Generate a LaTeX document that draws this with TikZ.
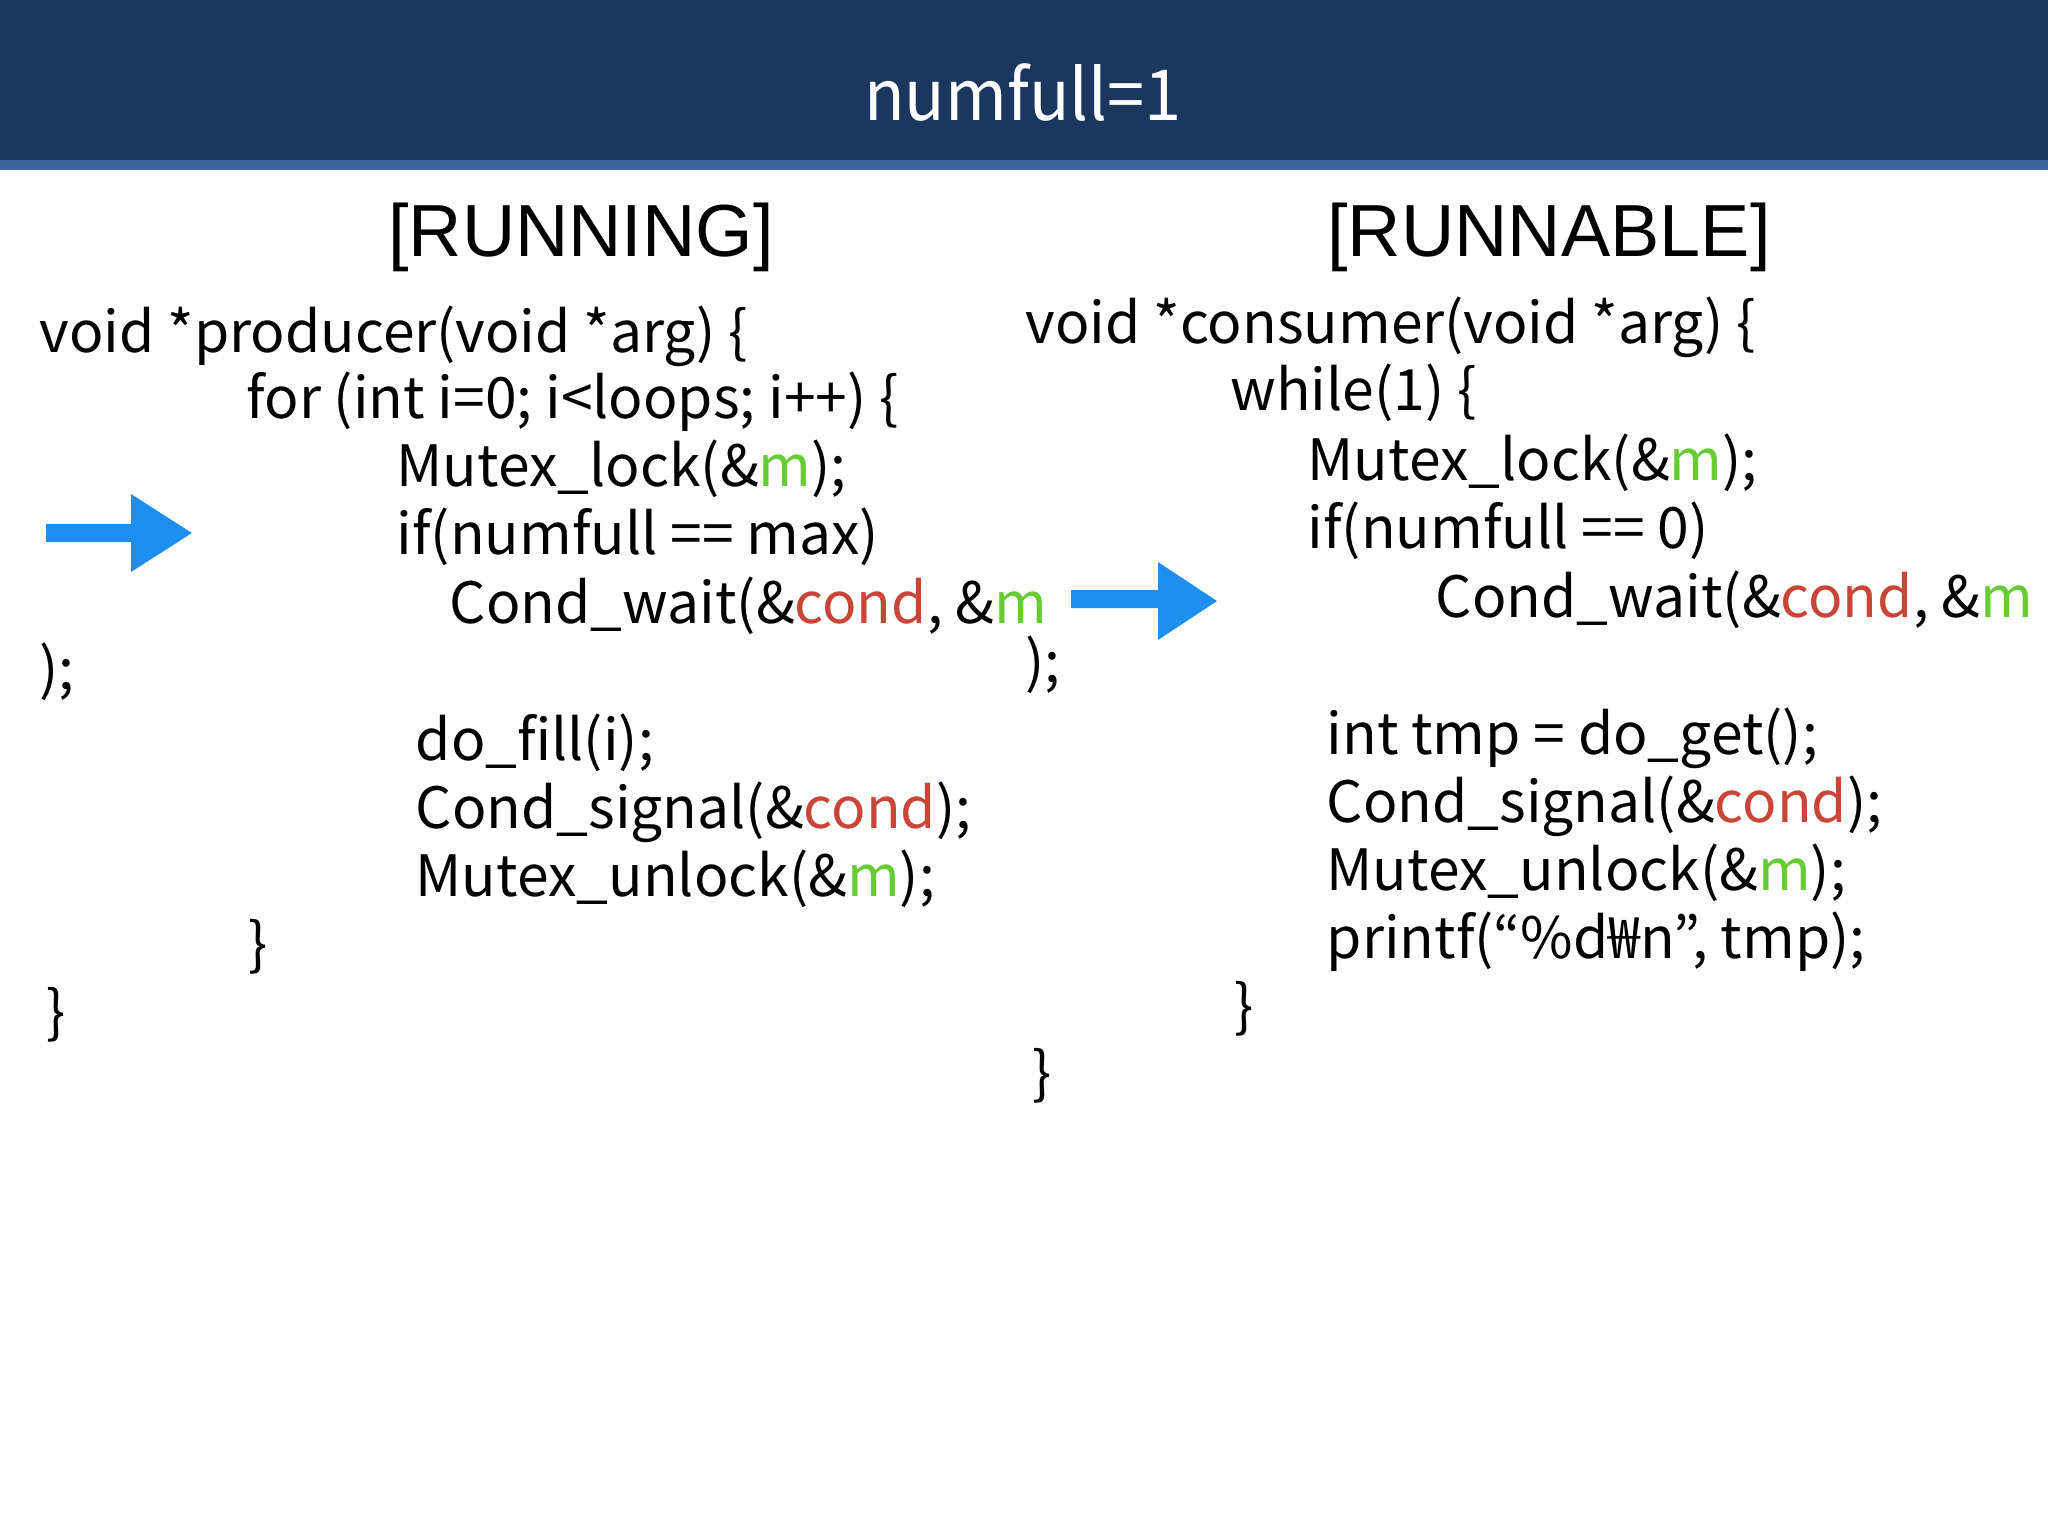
\documentclass[tikz,border=0pt]{standalone}
\usepackage{fontspec}
\setmainfont{Liberation Sans}
\newfontfamily\codefont{Noto Sans CJK KR}[FakeStretch=1.0]
\newfontfamily\titlefont{Noto Sans CJK KR}[FakeStretch=0.95]
\definecolor{hdr}{HTML}{1B375E}
\definecolor{hdrline}{HTML}{3C639A}
\definecolor{arr}{HTML}{1E8FF0}
\definecolor{gm}{HTML}{66CC33}
\definecolor{rc}{HTML}{C84538}
\newcommand{\gm}{\textcolor{gm}{m}}
\newcommand{\rc}{\textcolor{rc}{cond}}
\begin{document}
\begin{tikzpicture}[x=0.01cm,y=-0.01cm,
  code/.style={anchor=west,inner sep=0,font=\codefont\fontsize{16.2}{20}\selectfont,text height=0.97em,text depth=0.05em},
  head/.style={inner sep=0,font=\fontsize{21}{25}\selectfont},
  bigarrow/.style={fill=arr,draw=none}]
\useasboundingbox (0,0) rectangle (2048,1536);
\fill[hdr] (0,0) rectangle (2048,160);
\fill[hdrline] (0,160) rectangle (2048,170);
\node[inner sep=0,text=white,font=\titlefont\fontsize{20}{24}\selectfont] (title) at (1023,93) {numfull=1};
\node[head] (h1) at (581,237) {[RUNNING]};
\node[head] (h2) at (1549,237) {[RUNNABLE]};
% left
\node[code] (l1) at (39,336) {void *producer(void *arg) \{};
\node[code] (l2) at (246,402) {for (int i=0; i<loops; i++) \{};
\node[code] (l3) at (396,470) {Mutex\_lock(\&\gm);};
\node[code] (l4) at (396,538) {if(numfull == max)};
\node[code] (l5) at (449,607) {Cond\_wait(\&\rc, \&\gm};
\node[code] (l6) at (39,673) {);};
\node[code] (l7) at (415,744) {do\_fill(i);};
\node[code] (l8) at (415,812) {Cond\_signal(\&\rc);};
\node[code] (l9) at (415,880) {Mutex\_unlock(\&\gm);};
\node[code] (l10) at (248,948) {\}};
\node[code] (l11) at (46,1016) {\}};
% right
\node[code] (r1) at (1025,327) {void *consumer(void *arg) \{};
\node[code] (r2) at (1230,394) {while(1) \{};
\node[code] (r3) at (1307,464) {Mutex\_lock(\&\gm);};
\node[code] (r4) at (1307,532) {if(numfull == 0)};
\node[code] (r5) at (1435,601) {Cond\_wait(\&\rc, \&\gm};
\node[code] (r6) at (1025,666) {);};
\node[code] (r7) at (1326,738) {int tmp = do\_get();};
\node[code] (r8) at (1326,806) {Cond\_signal(\&\rc);};
\node[code] (r9) at (1326,874) {Mutex\_unlock(\&\gm);};
\node[code] (r10) at (1326,942) {printf(“\%d₩n”, tmp);};
\node[code] (r11) at (1234,1010) {\}};
\node[code] (r12) at (1032,1077) {\}};
% arrows
\fill[bigarrow] (46,524) -- (131,524) -- (131,494) -- (192,533) -- (131,572) -- (131,542) -- (46,542) -- cycle;
\fill[bigarrow] (1071,590) -- (1158,590) -- (1158,562) -- (1217,601) -- (1158,640) -- (1158,608) -- (1071,608) -- cycle;
\end{tikzpicture}
\end{document}
